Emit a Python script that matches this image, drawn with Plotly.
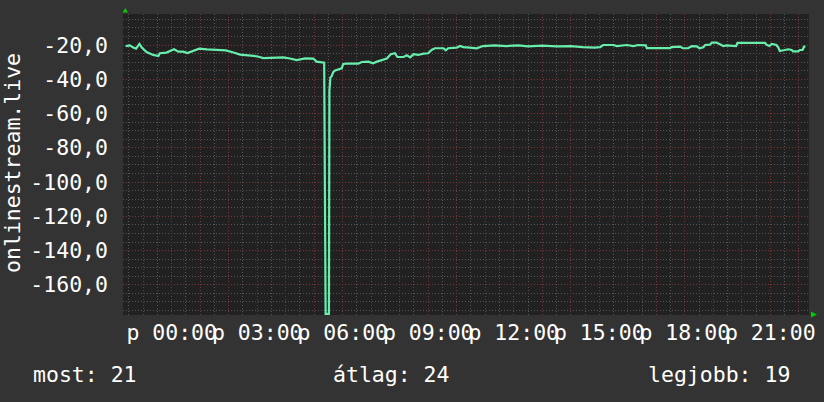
import plotly.graph_objects as go

# ---- data -----------------------------------------------------------
day1 = "2024-01-11"
day2 = "2024-01-12"
times_day1 = ["22:23", "22:32", "22:39", "22:45", "22:52", "22:57", "23:07",
              "23:21", "23:32", "23:35", "23:49"]
values_day1 = [-20.6, -20.2, -21.5, -22.1, -19.4, -21.5, -24.1,
               -25.8, -26.4, -24.8, -24.4]
times_day2 = ["00:05", "00:14", "00:24", "00:33", "00:45", "00:58", "01:14", "01:31",
              "01:54", "02:10", "02:24", "02:41", "02:59", "03:13", "03:34", "03:55",
              "04:09", "04:23", "04:41", "04:58", "05:05", "05:21", "05:24", "05:31",
              "05:32", "05:34", "05:37", "05:40", "05:44", "05:51", "05:58", "06:01",
              "06:08", "06:33", "06:40", "06:54", "07:04", "07:12", "07:22", "07:33",
              "07:41", "07:50", "07:55", "08:08", "08:15", "08:22", "08:29", "08:39",
              "08:50", "09:00", "09:07", "09:14", "09:32", "09:37", "09:42", "10:00",
              "10:07", "10:14", "10:28", "10:42", "10:55", "11:20", "11:45", "12:10",
              "12:30", "13:00", "13:30", "14:00", "14:25", "14:50", "15:02", "15:08",
              "15:30", "15:37", "15:58", "16:12", "16:22", "16:38", "16:40", "17:29",
              "17:32", "17:50", "17:56", "18:07", "18:15", "18:25", "18:31", "18:39",
              "18:43", "18:53", "18:57", "19:07", "19:14", "19:21", "19:28", "19:39",
              "19:48", "19:51", "20:49", "20:52", "20:58", "21:03", "21:13", "21:17",
              "21:20", "21:31", "21:38", "21:45", "21:48", "21:59", "22:02", "22:08",
              "22:11", "22:14"]
values_day2 = [-22.5, -23.9, -23.9, -24.7, -23.5, -22.1, -22.5, -22.9,
               -23.1, -24.4, -25.6, -26.0, -26.6, -27.6, -27.6, -27.2,
               -27.9, -28.8, -27.8, -27.9, -29.7, -30.3, -177.0, -177.0,
               -46.8, -39.0, -38.0, -35.8, -34.8, -34.0, -33.6, -31.1,
               -30.9, -30.9, -29.9, -29.7, -30.7, -29.7, -28.9, -27.9,
               -25.4, -24.8, -27.0, -27.0, -26.0, -27.2, -25.4, -25.8,
               -25.0, -24.8, -22.9, -21.9, -21.9, -23.1, -21.9, -21.5,
               -20.6, -21.2, -21.5, -21.9, -20.6, -20.2, -20.6, -20.2,
               -20.8, -20.4, -20.8, -20.6, -21.2, -21.5, -21.2, -20.0,
               -20.0, -20.6, -20.0, -20.6, -20.0, -20.2, -21.8, -21.8,
               -21.2, -20.9, -21.9, -21.9, -20.6, -20.8, -21.9, -21.3,
               -20.0, -19.8, -18.6, -18.6, -19.6, -20.6, -20.2, -20.6,
               -20.6, -18.8, -18.8, -19.8, -20.6, -19.4, -20.0, -21.5,
               -23.5, -22.9, -22.5, -22.9, -23.7, -23.7, -22.9, -22.9,
               -21.0, -21.0]

y_tick_values = [-20, -40, -60, -80, -100, -120, -140, -160]
y_tick_labels = ["-20,0", "-40,0", "-60,0", "-80,0", "-100,0", "-120,0", "-140,0", "-160,0"]
x_label_hours = ["00:00", "03:00", "06:00", "09:00", "12:00", "15:00", "18:00", "21:00"]
x_label_prefix = "p "
y_title = "onlinestream.live"
stats = [("most", 21), ("átlag", 24), ("legjobb", 19)]

x_range = [f"{day1} 22:17:30", f"{day2} 22:21:30"]
y_range = [-177.6, -1.9]

# ---- build ------------------------------------------------------------
xs = [f"{day1} {t}" for t in times_day1] + [f"{day2} {t}" for t in times_day2]
ys = values_day1 + values_day2

hour_ticks = [f"{day1} 23:00"] + [f"{day2} {h:02d}:00" for h in range(0, 23)]
hour_text = [""] + [(x_label_prefix + f"{h:02d}:00") if f"{h:02d}:00" in x_label_hours else ""
                    for h in range(0, 23)]
half_ticks = [f"{day1} 22:30", f"{day1} 23:30"] + [f"{day2} {h:02d}:30" for h in range(0, 22)]
y_minor = list(range(-175, 0, 5))

BG = "#333333"
PLOT_BG = "#212121"
MAJOR = "#7a3636"
MINOR = "#555555"
LINE = "#68eeac"
FONT = "DejaVu Sans Mono"
FS = 21.5

fig = go.Figure()
fig.add_trace(go.Scatter(x=xs, y=ys, mode="lines",
                         line=dict(color=LINE, width=2.2), hoverinfo="skip"))

fig.update_layout(
    template="none",
    width=824, height=402,
    paper_bgcolor=BG, plot_bgcolor=PLOT_BG,
    margin=dict(l=123, r=15, t=14, b=87, pad=0),
    showlegend=False,
    font=dict(family=FONT, size=FS, color="#ffffff"),
    xaxis=dict(
        type="date", range=x_range, automargin=False,
        tickmode="array", tickvals=hour_ticks, ticktext=hour_text, tickangle=0,
        showgrid=True, gridcolor=MAJOR, griddash="1px,2px", gridwidth=1,
        minor=dict(tickmode="array", tickvals=half_ticks, showgrid=True,
                   gridcolor=MINOR, griddash="1px,2px", gridwidth=1),
        ticks="", showline=False, zeroline=False,
        ticklabelstandoff=2,
        tickfont=dict(family=FONT, size=FS, color="#ffffff"),
    ),
    yaxis=dict(
        range=y_range, automargin=False,
        tickmode="array", tickvals=y_tick_values, ticktext=y_tick_labels,
        showgrid=True, gridcolor=MAJOR, griddash="1px,2px", gridwidth=1,
        minor=dict(tickmode="array", tickvals=y_minor, showgrid=True,
                   gridcolor=MINOR, griddash="1px,2px", gridwidth=1),
        ticks="", showline=False, zeroline=False,
        ticklabelstandoff=14,
        tickfont=dict(family=FONT, size=FS, color="#ffffff"),
    ),
)

annotations = [
    dict(text=y_title, textangle=-90, xref="paper", yref="paper",
         x=(12 - 123) / 686, y=(315 - 163) / 301, xanchor="center", yanchor="middle",
         showarrow=False, font=dict(family=FONT, size=FS, color="#ffffff")),
]
stat_pos = [((31 - 123) / 686, "left"), ((331 - 123) / 686, "left"), ((792 - 123) / 686, "right")]
for (name, val), (px, anchor) in zip(stats, stat_pos):
    annotations.append(dict(text=f"{name}: {val}", xref="paper", yref="paper",
                            x=px, y=(315 - 374) / 301, xanchor=anchor, yanchor="middle",
                            showarrow=False,
                            font=dict(family=FONT, size=FS, color="#ffffff")))
fig.update_layout(annotations=annotations)

# axis arrows (rrdtool style)
fig.add_shape(type="path", xref="paper", yref="paper",
              path="M -0.0007,1.005 L 0.0073,1.005 L 0.0034,1.020 Z",
              fillcolor="#00cc00", line=dict(width=0))
fig.add_shape(type="path", xref="paper", yref="paper",
              path="M 1.0029,0.0116 L 1.0029,-0.0083 L 1.0117,0.0017 Z",
              fillcolor="#00cc00", line=dict(width=0))

fig.write_html("out.html",
               config={"displayModeBar": False, "staticPlot": True},
               post_script="document.body.style.margin='0';document.body.style.overflow='hidden';")
